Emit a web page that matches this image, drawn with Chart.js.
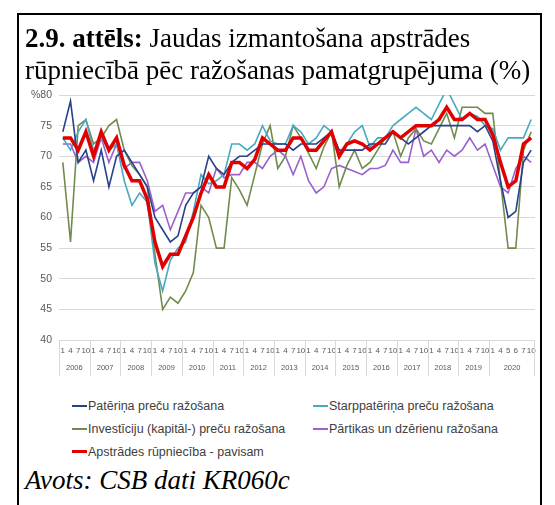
<!DOCTYPE html>
<html>
<head>
<meta charset="utf-8">
<script src="https://cdn.jsdelivr.net/npm/chart.js@4.4.1/dist/chart.umd.min.js"></script>
<style>
  body { margin: 0; background: #fff; }
  #wrap { position: relative; width: 555px; height: 505px; overflow: hidden; background: #fff; }
  #frame { position: absolute; left: 17px; top: 13px; width: 525px; height: 600px; border: 2px solid #000; box-sizing: border-box; }
  #title { position: absolute; left: 25px; top: 22px; font-family: 'Liberation Serif', 'Times New Roman', serif; font-size: 27px; line-height: 32px; color: #000; white-space: nowrap; }
  #chart { position: absolute; left: 0; top: 0; }
  #legend { position: absolute; left: 72px; top: 394px; display: grid; grid-template-columns: 241px 220px; row-gap: 0; }
  .item { display: flex; align-items: center; height: 23px; font-family: 'Liberation Sans', Arial, sans-serif; font-size: 12.5px; color: #404040; white-space: nowrap; }
  .item i { display: inline-block; width: 15px; margin-right: 1px; }
  #source { position: absolute; left: 25px; top: 465px; font-family: 'Liberation Serif', 'Times New Roman', serif; font-style: italic; font-size: 27px; line-height: 31px; color: #000; white-space: nowrap; }
</style>
</head>
<body>
<div id="wrap">
  <div id="frame"></div>
  <canvas id="chart" width="555" height="390"></canvas>
  <div id="title"><b>2.9. attēls:</b> Jaudas izmantošana apstrādes<br>rūpniecībā pēc ražošanas pamatgrupējuma (%)</div>
  <div id="legend"></div>
  <div id="source">Avots: CSB dati KR060c</div>
</div>
<script>
// Periodi (mēneši) un gadi
const periodLabels = [
  '1','4','7','10', // 2006
  '1','4','7','10', // 2007
  '1','4','7','10', // 2008
  '1','4','7','10', // 2009
  '1','4','7','10', // 2010
  '1','4','7','10', // 2011
  '1','4','7','10', // 2012
  '1','4','7','10', // 2013
  '1','4','7','10', // 2014
  '1','4','7','10', // 2015
  '1','4','7','10', // 2016
  '1','4','7','10', // 2017
  '1','4','7','10', // 2018
  '1','4','7','10', // 2019
  '1','4','5','6','7','10' // 2020
];
const yearLabels = ['2006','2007','2008','2009','2010','2011','2012','2013','2014','2015','2016','2017','2018','2019','2020'];
const periodsPerYear = [4,4,4,4,4,4,4,4,4,4,4,4,4,4,6];

const yTicks = [40, 45, 50, 55, 60, 65, 70, 75, 80];

// Jaudas izmantošana, %
const pateriņa = [
  74, 79, 69, 71,  66, 71, 65, 70,  71, 69, 67, 65,  60, 58, 56, 57,
  62, 64, 65, 70,  68, 67, 69, 70,  70, 71, 72, 72,  72, 72, 71, 72,
  72, 72, 73, 74,  71, 71, 71, 71,  72, 72, 72, 74,  73, 72, 73, 74,
  75, 75, 75, 75,  75, 75, 74, 75,  72.5, 66, 60, 61, 69, 71
];
const starppateriņa = [
  73, 71, 74, 76,  71, 73, 71, 72,  66, 62, 64, 62.5,  52.5, 48, 53, 55,
  56, 61, 67, 65.5,  66, 67, 72, 72,  71, 72, 75, 72.5,  72, 72, 75, 74,
  72, 73, 75, 74,  70.5, 72, 74, 75,  71.5, 73, 73, 75,  76, 77, 78, 77,
  76, 78.5, 81, 78.5,  76, 77, 76.5, 75,  74.5, 71, 73, 73, 73, 76
];
const investiciju = [
  69, 56, 75, 76,  72, 73, 75, 76,  71, 68.5, 67, 65,  54, 45, 47, 46,
  48, 51, 62, 60,  55, 55, 66.5, 64.5,  62, 67, 72, 75,  68, 70, 75, 73,
  70.5, 68, 71.5, 74,  65, 68.5, 71, 68,  69, 71, 73, 74,  70, 73, 74.5, 72.5,
  72, 74.5, 77, 73,  78, 78, 78, 77,  77, 66, 55, 55, 71, 74
];
const partikas = [
  72, 72, 69, 70,  69, 73, 69, 72,  68, 69, 69, 66,  61, 62, 58, 61,
  64, 64, 65, 64,  68, 66.5, 67, 67,  69, 69, 68, 70,  71, 70, 67, 70,
  66, 64, 65, 68,  68.5, 68, 67.5, 67,  68, 68, 68.5, 71,  69, 69, 74.5, 70,
  71, 69, 71, 70,  71, 73, 71, 72,  68.5, 65, 64, 68, 70, 69
];
const apstrades = [
  73, 73, 71, 74,  70, 74, 71, 73,  68.5, 66, 66, 63,  56, 52, 54, 54,
  57, 60, 64, 67,  65, 65, 69, 69,  68, 69.5, 73, 72,  71, 71, 73, 73,
  71, 71, 72.5, 74,  70, 72, 72.5, 72,  71, 72, 73, 74,  73, 74, 75, 75,
  75, 76, 78, 76,  76, 77, 76, 76,  73.5, 69, 65, 66, 72, 73
];

// Gadu nosaukumi un atdalītāji zem x ass
const yearAxisPlugin = {
  id: 'yearAxis',
  afterDraw(chart) {
    const ctx = chart.ctx;
    const x = chart.scales.x;
    const area = chart.chartArea;
    const step = x.getPixelForValue(1) - x.getPixelForValue(0);
    ctx.save();
    ctx.strokeStyle = '#d9d9d9';
    ctx.lineWidth = 1;
    ctx.fillStyle = '#595959';
    ctx.font = '7.5px "Liberation Sans", Arial, sans-serif';
    ctx.textAlign = 'center';
    ctx.textBaseline = 'middle';
    let idx = 0;
    yearLabels.forEach(function(year, k) {
      const left = x.getPixelForValue(idx) - step / 2;
      const right = x.getPixelForValue(idx + periodsPerYear[k] - 1) + step / 2;
      ctx.beginPath();
      ctx.moveTo(Math.round(left) + 0.5, area.bottom);
      ctx.lineTo(Math.round(left) + 0.5, area.bottom + 36);
      if (k === yearLabels.length - 1) {
        ctx.moveTo(Math.round(right) - 0.5, area.bottom);
        ctx.lineTo(Math.round(right) - 0.5, area.bottom + 36);
      }
      ctx.stroke();
      ctx.fillText(year, (left + right) / 2, area.bottom + 28);
      idx += periodsPerYear[k];
    });
    ctx.restore();
  }
};

const ctx = document.getElementById('chart').getContext('2d');
const chart = new Chart(ctx, {
  type: 'line',
  data: {
    labels: periodLabels,
    datasets: [
      { label: 'Patēriņa preču ražošana', data: pateriņa, borderColor: '#27418a', borderWidth: 1.6 },
      { label: 'Starppatēriņa preču ražošana', data: starppateriņa, borderColor: '#4aa9c2', borderWidth: 1.6 },
      { label: 'Investīciju (kapitāl-) preču ražošana', data: investiciju, borderColor: '#718b4e', borderWidth: 1.6 },
      { label: 'Pārtikas un dzērienu ražošana', data: partikas, borderColor: '#9a60cc', borderWidth: 1.6 },
      { label: 'Apstrādes rūpniecība - pavisam', data: apstrades, borderColor: '#e00000', borderWidth: 3.5, order: -1 }
    ]
  },
  options: {
    responsive: false,
    animation: false,
    elements: { point: { radius: 0 }, line: { tension: 0 } },
    layout: { padding: { top: 95, right: 20, bottom: 0, left: 0 } },
    plugins: { legend: { display: false }, tooltip: { enabled: false } },
    scales: {
      x: {
        offset: true,
        grid: { display: false, drawTicks: false },
        border: { display: false },
        ticks: { autoSkip: false, maxRotation: 0, minRotation: 0, padding: 6, color: '#595959',
                 font: { size: 8, family: 'Liberation Sans' } },
        afterFit(s) { s.height = 50; }
      },
      y: {
        min: yTicks[0],
        max: yTicks[yTicks.length - 1],
        afterBuildTicks(s) { s.ticks = yTicks.map(v => ({ value: v })); },
        grid: { color: '#d9d9d9', lineWidth: 1, drawTicks: false },
        border: { display: false },
        ticks: { padding: 7, color: '#595959', font: { size: 10.5, family: 'Liberation Sans' },
                 callback: v => v === 80 ? '%80' : v },
        afterFit(s) { s.width = 59; }
      }
    }
  },
  plugins: [yearAxisPlugin]
});

// Leģenda divās kolonnās
const legendOrder = [0, 1, 2, 3, 4];
const legend = document.getElementById('legend');
legendOrder.forEach(function(i) {
  const ds = chart.data.datasets[i];
  const item = document.createElement('div');
  item.className = 'item';
  const line = document.createElement('i');
  line.style.height = (ds.borderWidth > 2 ? 3 : 2) + 'px';
  line.style.background = ds.borderColor;
  item.appendChild(line);
  item.appendChild(document.createTextNode(ds.label));
  legend.appendChild(item);
});
</script>
</body>
</html>
